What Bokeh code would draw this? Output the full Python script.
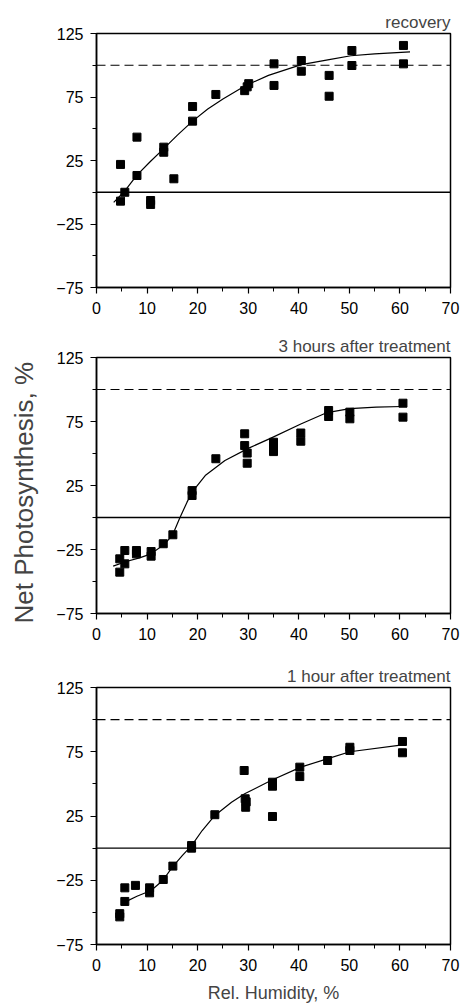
from bokeh.plotting import figure
from bokeh.layouts import column
from bokeh.models import Span, FixedTicker, Range1d
from bokeh.embed import file_html
from bokeh.resources import INLINE

FONT = "Liberation Sans"

# ---- data ----
x_ticks = [0, 10, 20, 30, 40, 50, 60, 70]
x_minor = [5, 15, 25, 35, 45, 55, 65]
y_ticks = [-75, -25, 25, 75, 125]
y_minor = [-50, 0, 50, 100]
ref_solid = 0
ref_dashed = 100

titles = ["recovery", "3 hours after treatment", "1 hour after treatment"]

rec_x = [4.75, 4.75, 5.6, 8.0, 8.0, 10.7, 10.7, 13.3, 13.3, 15.3, 19.0, 19.0, 23.6,
         29.3, 29.8, 30.1, 35.1, 35.1, 40.5, 40.5, 46.0, 46.0, 50.5, 50.5, 60.7, 60.7]
rec_y = [21.9, -7.0, 0.0, 43.4, 13.2, -6.5, -9.6, 35.5, 31.5, 10.6, 67.5, 56.0, 77.0,
         80.0, 83.0, 85.5, 101.1, 84.1, 103.7, 95.3, 92.0, 75.6, 111.6, 99.8, 115.6, 101.1]
rec_fit_x = [3.4, 5.6, 8.0, 10.6, 13.2, 16.0, 19.0, 22.0, 25.0, 29.5, 34.0, 40.5, 46.0, 50.3, 55.0, 62.0]
rec_fit_y = [-8.0, 1.0, 13.5, 24.0, 34.0, 45.0, 56.0, 65.5, 73.5, 84.0, 92.0, 100.5, 104.5, 107.5, 109.0, 110.5]

h3_x = [4.6, 4.6, 5.6, 5.6, 7.9, 7.9, 10.8, 10.8, 13.2, 15.1, 18.9, 18.9, 23.6,
        29.3, 29.3, 29.8, 29.8, 35.0, 35.0, 35.0, 40.4, 40.4, 45.9, 45.9, 50.1, 50.1, 60.6, 60.6]
h3_y = [-42.7, -32.3, -25.8, -36.2, -25.8, -28.4, -26.6, -30.2, -20.5, -13.5, 21.0, 17.2, 45.9,
        65.4, 56.2, 50.3, 42.4, 58.8, 55.0, 51.5, 66.0, 59.6, 83.6, 78.9, 82.3, 77.1, 89.3, 78.4]
h3_fit_x = [3.3, 5.9, 8.5, 10.8, 13.4, 15.0, 16.4, 17.9, 18.9, 21.5, 25.4, 30.0, 34.5, 40.4, 45.6, 50.1, 55.3, 60.5]
h3_fit_y = [-38.0, -34.4, -31.5, -28.4, -21.0, -14.0, -1.0, 12.0, 19.8, 32.8, 44.5, 54.0, 62.0, 73.0, 82.0, 85.0, 86.3, 86.7]

h1_x = [4.6, 4.6, 5.6, 5.6, 7.7, 10.5, 10.5, 13.2, 15.1, 18.8, 18.8, 23.4,
        29.2, 29.4, 29.6, 29.5, 34.8, 34.8, 34.8, 40.2, 40.2, 45.7, 50.1, 50.1, 60.5, 60.5]
h1_y = [-51.0, -53.5, -30.9, -41.5, -29.0, -30.9, -34.8, -24.4, -14.0, 2.0, 0.0, 26.0,
        60.4, 38.4, 36.0, 31.8, 51.3, 48.2, 24.6, 63.0, 55.7, 68.2, 78.5, 76.0, 83.0, 74.2]
h1_fit_x = [5.6, 8.0, 10.8, 13.1, 15.0, 17.0, 18.8, 20.9, 23.4, 26.7, 29.3, 34.5, 40.4, 45.6, 50.1, 60.5]
h1_fit_y = [-42.0, -37.5, -33.0, -25.2, -14.8, -5.7, 2.0, 13.7, 25.4, 35.7, 42.3, 52.6, 63.0, 69.5, 75.0, 80.4]


def panel(title, xs, ys, fx, fy, left, right, top, bottom, frame_h, ylabel=None, xlabel=None):
    p = figure(width=465, height=top + frame_h + bottom,
               x_range=Range1d(0, 70), y_range=Range1d(-75, 125),
               output_backend="svg", toolbar_location=None,
               min_border_left=left, min_border_right=right,
               min_border_top=top, min_border_bottom=bottom,
               background_fill_color="white", border_fill_color="white")
    p.title.text = title
    p.title.align = "right"
    p.title.text_font = FONT
    p.title.text_font_size = "17px"
    p.title.text_font_style = "normal"
    p.title.standoff = 4
    p.grid.visible = False
    p.outline_line_color = "black"
    p.outline_line_width = 1.5
    p.outline_line_alpha = 1.0

    p.xaxis.ticker = FixedTicker(ticks=x_ticks, minor_ticks=x_minor)
    p.yaxis.ticker = FixedTicker(ticks=y_ticks, minor_ticks=y_minor)
    for ax in (p.xaxis, p.yaxis):
        ax.axis_line_color = "black"
        ax.axis_line_width = 1.5
        ax.major_tick_line_color = "black"
        ax.major_tick_line_width = 1.2
        ax.minor_tick_line_color = "black"
        ax.major_tick_in = 0
        ax.major_tick_out = 6
        ax.minor_tick_in = 0
        ax.minor_tick_out = 4
        ax.major_label_text_font = FONT
        ax.major_label_text_font_size = "16px"
        ax.major_label_text_color = "black"
    p.xaxis.major_label_standoff = 8
    p.yaxis.major_label_standoff = 7

    if ylabel:
        p.yaxis.axis_label = ylabel
        p.yaxis.axis_label_text_font = FONT
        p.yaxis.axis_label_text_font_size = "26px"
        p.yaxis.axis_label_text_font_style = "normal"
        p.yaxis.axis_label_standoff = 14
    if xlabel:
        p.xaxis.axis_label = xlabel
        p.xaxis.axis_label_text_font = FONT
        p.xaxis.axis_label_text_font_size = "18px"
        p.xaxis.axis_label_text_font_style = "normal"
        p.xaxis.axis_label_standoff = 9

    p.add_layout(Span(location=ref_solid, dimension="width", line_color="black", line_width=1.3))
    p.add_layout(Span(location=ref_dashed, dimension="width", line_color="black", line_width=1.1,
                      line_dash="9 5"))
    p.line(fx, fy, line_color="black", line_width=1.2)
    p.scatter(xs, ys, marker="square", size=8, fill_color="black", line_color="black")
    return p


p1 = panel(titles[0], rec_x, rec_y, rec_fit_x, rec_fit_y, 96, 11, 33, 38, 254)
p2 = panel(titles[1], h3_x, h3_y, h3_fit_x, h3_fit_y, 93, 13, 32, 42, 256,
           ylabel="Net  Photosynthesis,  %")
p3 = panel(titles[2], h1_x, h1_y, h1_fit_x, h1_fit_y, 91, 15, 32, 64, 257,
           xlabel="Rel. Humidity, %")

layout = column(p1, p2, p3, spacing=0)
open("out.html", "w").write(file_html(layout, INLINE))
